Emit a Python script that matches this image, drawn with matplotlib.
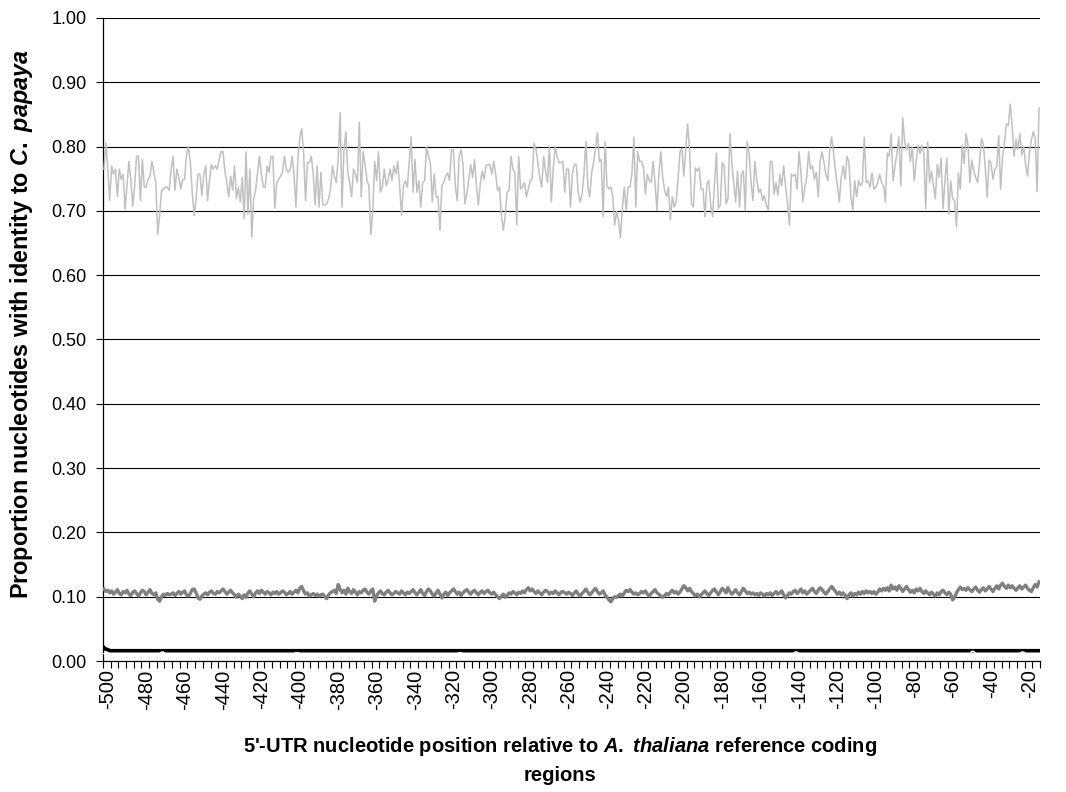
import matplotlib
matplotlib.use("Agg")
import matplotlib.pyplot as plt
from matplotlib.transforms import ScaledTranslation
import numpy as np

plt.rcParams["font.family"] = ["Liberation Sans", "DejaVu Sans"]
plt.rcParams["mathtext.fontset"] = "custom"
plt.rcParams["mathtext.it"] = "Liberation Sans:italic:bold"
plt.rcParams["mathtext.rm"] = "Liberation Sans:bold"
plt.rcParams["mathtext.bf"] = "Liberation Sans:bold"

# Identity proportion per 5'-UTR position (light grey series)
identity_high = [
    # -500 ..
    0.765, 0.806, 0.765, 0.716, 0.77, 0.757, 0.765, 0.722, 0.765, 0.749, 0.757, 0.702, 0.739, 0.777, 0.749,
    0.707, 0.739, 0.785, 0.785, 0.716, 0.78, 0.737, 0.737, 0.749, 0.754, 0.777, 0.76, 0.744, 0.663, 0.693,
    0.732, 0.734, 0.737, 0.737, 0.732, 0.765, 0.785, 0.732, 0.765, 0.752, 0.734, 0.749, 0.749, 0.787, 0.80,
    0.775, 0.729, 0.693, 0.719, 0.757, 0.757, 0.724, 0.757, 0.77, 0.716, 0.749, 0.772, 0.765,
    # -442 ..
    0.77, 0.765, 0.78, 0.792, 0.792, 0.762, 0.744, 0.722, 0.754, 0.732, 0.77, 0.719, 0.737, 0.714, 0.752,
    0.688, 0.792, 0.695, 0.765, 0.659, 0.719, 0.732, 0.76, 0.785, 0.757, 0.737, 0.737, 0.77, 0.76, 0.785,
    0.785, 0.704, 0.744, 0.749, 0.754, 0.76, 0.785, 0.765, 0.76, 0.765, 0.785, 0.757, 0.706, 0.78, 0.813,
    0.828, 0.79, 0.716, 0.775, 0.775, 0.785, 0.757, 0.709, 0.77, 0.706, 0.76, 0.709, 0.709, 0.711,
    # -383 ..
    0.719, 0.734, 0.77, 0.754, 0.744, 0.782, 0.853, 0.706, 0.795, 0.823, 0.76, 0.744, 0.722, 0.765, 0.757,
    0.744, 0.838, 0.722, 0.792, 0.772, 0.747, 0.739, 0.663, 0.698, 0.777, 0.747, 0.792, 0.729, 0.737, 0.765,
    0.739, 0.749, 0.765, 0.747, 0.77, 0.757, 0.777, 0.739, 0.693, 0.739, 0.747, 0.737, 0.777, 0.815, 0.729,
    0.78, 0.729, 0.747, 0.706, 0.744, 0.747, 0.80, 0.785, 0.775, 0.714, 0.757, 0.722, 0.722, 0.67, 0.739,
    0.744,
    # -322 ..
    0.754, 0.759, 0.747, 0.795, 0.795, 0.739, 0.716, 0.785, 0.795, 0.772, 0.711, 0.726, 0.749, 0.772, 0.752,
    0.78, 0.739, 0.709, 0.742, 0.762, 0.749, 0.77, 0.772, 0.772, 0.757, 0.777, 0.757, 0.732, 0.737, 0.693,
    0.67, 0.693, 0.729, 0.732, 0.785, 0.765, 0.76, 0.678, 0.785, 0.734, 0.737, 0.744, 0.722, 0.734, 0.747,
    0.749, 0.805, 0.797, 0.775, 0.752, 0.737, 0.785, 0.762, 0.744, 0.80, 0.714, 0.765, 0.80, 0.785, 0.775,
    0.775,
    # -261 ..
    0.777, 0.729, 0.765, 0.765, 0.706, 0.759, 0.772, 0.772, 0.729, 0.714, 0.726, 0.757, 0.808, 0.739, 0.722,
    0.759, 0.775, 0.797, 0.822, 0.777, 0.78, 0.691, 0.808, 0.739, 0.734, 0.737, 0.722, 0.678, 0.699, 0.686,
    0.658, 0.704, 0.737, 0.701, 0.737, 0.737, 0.759, 0.815, 0.706, 0.792, 0.777, 0.777, 0.767, 0.726, 0.757,
    0.747, 0.744, 0.777, 0.744, 0.701, 0.757, 0.792, 0.752, 0.732, 0.722, 0.737, 0.686, 0.722, 0.706, 0.714,
    # -201 ..
    0.749, 0.792, 0.797, 0.754, 0.795, 0.835, 0.795, 0.711, 0.706, 0.767, 0.762, 0.767, 0.734, 0.734, 0.691,
    0.742, 0.747, 0.709, 0.691, 0.744, 0.79, 0.704, 0.709, 0.775, 0.77, 0.711, 0.719, 0.82, 0.775, 0.744,
    0.714, 0.762, 0.706, 0.757, 0.762, 0.701, 0.808, 0.79, 0.744, 0.716, 0.777, 0.749, 0.729, 0.734, 0.716,
    0.724, 0.709, 0.701, 0.777, 0.777, 0.726, 0.744, 0.724, 0.757, 0.739, 0.77, 0.737, 0.711, 0.678, 0.757,
    0.754,
    # -140 ..
    0.757, 0.734, 0.792, 0.76, 0.714, 0.737, 0.752, 0.792, 0.765, 0.77, 0.749, 0.76, 0.722, 0.777, 0.792,
    0.775, 0.757, 0.747, 0.795, 0.815, 0.79, 0.762, 0.739, 0.714, 0.752, 0.77, 0.749, 0.785, 0.775, 0.724,
    0.701, 0.747, 0.722, 0.747, 0.739, 0.744, 0.815, 0.744, 0.747, 0.737, 0.759, 0.734, 0.737, 0.744, 0.757,
    0.744, 0.739, 0.714, 0.79, 0.785, 0.82, 0.747, 0.77, 0.79, 0.815, 0.739, 0.845, 0.808, 0.795, 0.805,
    0.777,
    # -79 ..
    0.80, 0.747, 0.777, 0.802, 0.789, 0.802, 0.789, 0.703, 0.807, 0.744, 0.762, 0.739, 0.719, 0.772, 0.752,
    0.782, 0.703, 0.747, 0.782, 0.695, 0.747, 0.719, 0.716, 0.675, 0.759, 0.734, 0.802, 0.774, 0.82, 0.802,
    0.744, 0.779, 0.762, 0.752, 0.744, 0.774, 0.812, 0.805, 0.767, 0.721, 0.779, 0.774, 0.749, 0.764, 0.769,
    0.817, 0.734, 0.782, 0.807, 0.835, 0.833, 0.866, 0.833, 0.785, 0.812, 0.795, 0.82, 0.787, 0.80, 0.772,
    0.754, 0.79, 0.81, 0.823, 0.812, 0.73, 0.86,
]

# Middle series (dark grey)
identity_mid = [
    0.112, 0.108, 0.110, 0.106, 0.109, 0.104, 0.107, 0.111, 0.105, 0.103, 0.108, 0.106, 0.110, 0.104, 0.102, 0.107, 0.109, 0.105, 0.101, 0.106,
    0.110, 0.108, 0.103, 0.107, 0.111, 0.105, 0.103, 0.106, 0.096, 0.093, 0.100, 0.104, 0.102, 0.105, 0.103, 0.104, 0.106, 0.102, 0.105, 0.108,
    0.104, 0.107, 0.109, 0.103, 0.101, 0.105, 0.111, 0.112, 0.106, 0.098, 0.096, 0.101, 0.104, 0.106, 0.103, 0.107, 0.109, 0.105, 0.104, 0.108,
    0.106, 0.109, 0.112, 0.108, 0.104, 0.107, 0.110, 0.106, 0.103, 0.099, 0.104, 0.101, 0.097, 0.103, 0.099, 0.106, 0.109, 0.104, 0.100, 0.106,
    0.109, 0.105, 0.110, 0.107, 0.104, 0.108, 0.106, 0.103, 0.107, 0.105, 0.108, 0.104, 0.106, 0.109, 0.107, 0.103, 0.105, 0.108, 0.104, 0.107,
    0.110, 0.106, 0.113, 0.116, 0.109, 0.104, 0.106, 0.101, 0.103, 0.105, 0.102, 0.104, 0.101, 0.103, 0.104, 0.100, 0.097, 0.103, 0.106, 0.108,
    0.110, 0.105, 0.119, 0.112, 0.106, 0.110, 0.104, 0.113, 0.108, 0.105, 0.111, 0.107, 0.103, 0.108, 0.106, 0.110, 0.112, 0.107, 0.104, 0.109,
    0.112, 0.093, 0.101, 0.106, 0.109, 0.105, 0.103, 0.107, 0.110, 0.106, 0.103, 0.105, 0.108, 0.106, 0.104, 0.109, 0.106, 0.103, 0.107, 0.105,
    0.108, 0.111, 0.106, 0.103, 0.107, 0.111, 0.105, 0.102, 0.108, 0.112, 0.109, 0.104, 0.101, 0.106, 0.110, 0.104, 0.098, 0.104, 0.107, 0.102,
    0.106, 0.109, 0.112, 0.108, 0.104, 0.107, 0.102, 0.106, 0.109, 0.111, 0.107, 0.104, 0.108, 0.110, 0.106, 0.103, 0.107, 0.109, 0.105, 0.108,
    0.110, 0.106, 0.104, 0.107, 0.103, 0.100, 0.097, 0.101, 0.104, 0.099, 0.102, 0.106, 0.104, 0.108, 0.106, 0.103, 0.107, 0.105, 0.109, 0.106,
    0.111, 0.114, 0.109, 0.112, 0.108, 0.105, 0.109, 0.106, 0.103, 0.107, 0.110, 0.108, 0.104, 0.107, 0.105, 0.109, 0.106, 0.103, 0.107, 0.108,
    0.106, 0.104, 0.107, 0.105, 0.102, 0.106, 0.109, 0.104, 0.101, 0.105, 0.108, 0.112, 0.107, 0.103, 0.106, 0.110, 0.113, 0.108, 0.104, 0.106,
    0.109, 0.103, 0.099, 0.095, 0.092, 0.097, 0.100, 0.099, 0.102, 0.104, 0.101, 0.106, 0.110, 0.108, 0.111, 0.107, 0.104, 0.106, 0.103, 0.105,
    0.108, 0.106, 0.109, 0.104, 0.101, 0.105, 0.108, 0.111, 0.106, 0.104, 0.101, 0.099, 0.102, 0.105, 0.103, 0.107, 0.110, 0.106, 0.108, 0.104,
    0.107, 0.112, 0.117, 0.114, 0.109, 0.113, 0.108, 0.105, 0.101, 0.104, 0.100, 0.103, 0.106, 0.109, 0.105, 0.102, 0.106, 0.110, 0.112, 0.107,
    0.103, 0.108, 0.113, 0.110, 0.106, 0.114, 0.108, 0.104, 0.107, 0.111, 0.106, 0.103, 0.108, 0.113, 0.109, 0.105, 0.107, 0.104, 0.106, 0.103,
    0.105, 0.102, 0.106, 0.104, 0.101, 0.105, 0.103, 0.106, 0.102, 0.105, 0.108, 0.104, 0.106, 0.109, 0.103, 0.098, 0.102, 0.106, 0.104, 0.108,
    0.110, 0.105, 0.108, 0.112, 0.106, 0.109, 0.104, 0.107, 0.110, 0.113, 0.108, 0.105, 0.110, 0.114, 0.111, 0.107, 0.104, 0.108, 0.112, 0.116,
    0.112, 0.108, 0.104, 0.107, 0.103, 0.106, 0.102, 0.097, 0.103, 0.106, 0.101, 0.105, 0.103, 0.107, 0.104, 0.108, 0.105, 0.109, 0.106, 0.108,
    0.105, 0.108, 0.104, 0.107, 0.112, 0.109, 0.113, 0.110, 0.114, 0.109, 0.118, 0.112, 0.115, 0.110, 0.117, 0.113, 0.108, 0.112, 0.116, 0.111,
    0.107, 0.110, 0.106, 0.112, 0.109, 0.113, 0.108, 0.105, 0.109, 0.106, 0.103, 0.107, 0.104, 0.101, 0.106, 0.103, 0.108, 0.110, 0.106, 0.103,
    0.107, 0.104, 0.095, 0.099, 0.106, 0.111, 0.115, 0.111, 0.113, 0.110, 0.114, 0.111, 0.108, 0.112, 0.115, 0.110, 0.107, 0.111, 0.114, 0.109,
    0.112, 0.116, 0.112, 0.108, 0.113, 0.117, 0.112, 0.118, 0.121, 0.116, 0.113, 0.118, 0.114, 0.117, 0.113, 0.110, 0.114, 0.117, 0.112, 0.115,
    0.118, 0.113, 0.110, 0.108, 0.114, 0.119, 0.115, 0.123,
]

# Low series, stored as (value, run length) pairs
identity_low_runs = [(0.021, 1), (0.018, 2), (0.016, 485)]
identity_floor_runs = [(0.0115, 30), (0.014, 2), (0.0115, 68), (0.013, 2), (0.0115, 83),
                       (0.013, 2), (0.0115, 173), (0.014, 2), (0.0115, 90), (0.015, 2),
                       (0.0115, 24), (0.014, 2), (0.0115, 8)]

n_pos = len(identity_high)
positions = list(range(-500, -500 + n_pos))
label_step = 20
tick_step = 4


def expand(runs):
    out = []
    for value, count in runs:
        out.extend([value] * count)
    return out


identity_low = expand(identity_low_runs)
identity_floor = expand(identity_floor_runs)

fig = plt.figure(figsize=(10.66, 7.92), dpi=100)
ax = fig.add_axes([0.0966, 0.1654, 0.8790, 0.8119])

idx = np.arange(n_pos)
ax.plot(idx, identity_high, color="#C0C0C0", lw=1.1, zorder=3)
ax.plot(idx, identity_mid, color="#808080", lw=2.4, zorder=3)
ax.plot(idx, identity_low, color="black", lw=2.6, zorder=3)
ax.plot(idx, identity_floor, color="white", lw=1.0, zorder=4)

ax.set_xlim(-0.5, n_pos - 0.5)
ax.set_ylim(0, 1.0)
yt = np.arange(0, 1.01, 0.1)
ax.set_yticks(yt)
ax.set_yticklabels([f"{v:.2f}" for v in yt], fontsize=13)
ax.yaxis.grid(True, color="black", lw=0.8)
ax.set_axisbelow(True)

major = list(range(0, n_pos, label_step))
ax.set_xticks(major)
ax.set_xticklabels([str(positions[i]) for i in major], rotation=90, fontsize=14.5)
ax.set_xticks([i - 0.5 for i in range(0, n_pos + 1, tick_step)], minor=True)
ax.tick_params(axis="x", which="major", length=0, pad=6)
ax.tick_params(axis="x", which="minor", length=5, width=0.8, direction="out")
ax.tick_params(axis="y", length=5, width=0.8, direction="out", pad=7)

# nudge the rotated category labels slightly to the right
shift = ScaledTranslation(4 / 100, 0, fig.dpi_scale_trans)
for tick in ax.xaxis.get_major_ticks():
    tick.label1.set_transform(tick.label1.get_transform() + shift)

for side in ("top", "right"):
    ax.spines[side].set_visible(False)
ax.spines["left"].set_linewidth(0.9)
ax.spines["bottom"].set_linewidth(0.9)

ax.set_ylabel(r"Proportion nucleotides with identity to $\mathit{C.}$ $\mathit{papaya}$",
              fontsize=16.8, fontweight="bold")
ax.yaxis.set_label_coords(-0.0726, 0.524)
ax.set_xlabel("5'-UTR nucleotide position relative to $\\mathit{A.}$ $\\mathit{thaliana}$ reference coding\nregions",
              fontsize=14.5, fontweight="bold", linespacing=1.55)
ax.xaxis.set_label_coords(0.488, -0.115)

fig.savefig("out.png", dpi=100)
